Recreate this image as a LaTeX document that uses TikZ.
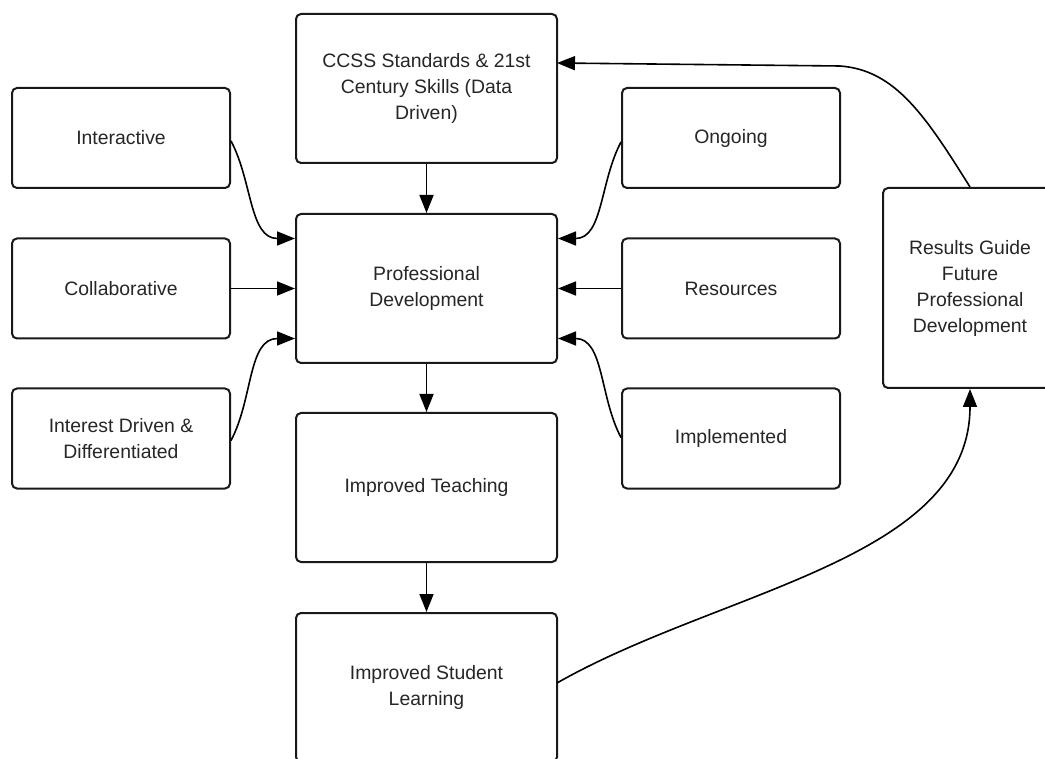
\documentclass[tikz,border=0pt]{standalone}
\usepackage{fontspec}
\setmainfont{Liberation Sans}
\usetikzlibrary{arrows.meta}
\begin{document}
\begin{tikzpicture}[x=1pt,y=-1pt,
  box/.style={draw=black!90, line width=2pt, rounded corners=5pt, fill=white,
    align=center, text=black!85, font=\fontsize{19.4}{26}\selectfont, inner sep=0pt},
  bigbox/.style={box, minimum width=261pt, minimum height=149pt},
  sidebox/.style={box, minimum width=218pt, minimum height=100pt},
  conn/.style={line width=1.6pt, draw=black, -{Triangle[length=18pt,width=14pt]}}]
\useasboundingbox (0,0) rectangle (1045,759);
\fill[white] (0,0) rectangle (1045,759);
\clip (0,0) rectangle (1045,759);

\node[bigbox] (ccss) at (426.5,88.5) {CCSS Standards \& 21st\\Century Skills (Data\\Driven)};
\node[bigbox] (pd) at (426.5,288.5) {Professional\\Development};
\node[bigbox] (teach) at (426.5,487.5) {Improved Teaching};
\node[bigbox] (learn) at (426.5,687.5) {Improved Student\\Learning};

\node[sidebox] (inter) at (121,138) {Interactive};
\node[sidebox] (collab) at (121,288.5) {Collaborative};
\node[sidebox] (intd) at (121,438.5) {Interest Driven \&\\Differentiated};

\node[sidebox] (ongo) at (731,138) {Ongoing};
\node[sidebox] (res) at (731,288.5) {Resources};
\node[sidebox] (impl) at (731,438.5) {Implemented};

\node[box, minimum width=174pt, minimum height=200pt] (results) at (970,288) {Results Guide\\Future\\Professional\\Development};

\draw[conn] (ccss.south) -- (pd.north);
\draw[conn] (pd.south) -- (teach.north);
\draw[conn] (teach.south) -- (learn.north);

\draw[conn] ([yshift=-3pt]inter.east) to[out=-62,in=180] ([yshift=50pt]pd.west);
\draw[conn] (collab.east) -- (pd.west);
\draw[conn] ([yshift=-2pt]intd.east) to[out=62,in=180] ([yshift=-50pt]pd.west);

\draw[conn] ([yshift=-4pt]ongo.west) to[out=242,in=0] ([yshift=50pt]pd.east);
\draw[conn] (res.west) -- (pd.east);
\draw[conn] ([yshift=1pt]impl.west) to[out=118,in=0] ([yshift=-50pt]pd.east);

\coordinate (lout) at (557,683);
\draw[conn] (lout) .. controls (720,590) and (970,560) .. (results.south);
\coordinate (ccin) at (557,63);
\coordinate (bend) at (840,66);
\draw[conn] (results.north) .. controls (925,115) and (895,70) .. (bend) -- (ccin);
\end{tikzpicture}
\end{document}
